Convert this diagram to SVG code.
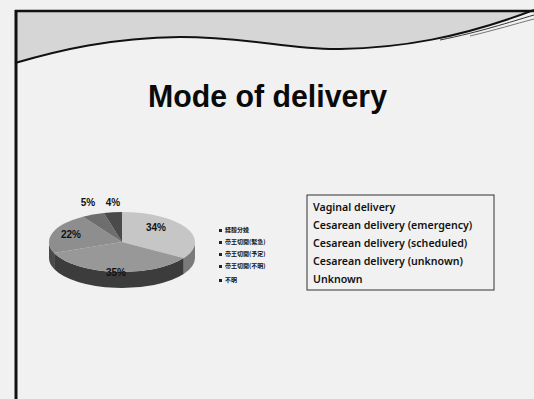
<svg xmlns="http://www.w3.org/2000/svg" width="534" height="399" viewBox="0 0 534 399">
<style>
.pct{font-family:"Liberation Sans",Arial,sans-serif;font-weight:bold;font-size:10px;fill:#111}
.jp{font-family:"Noto Sans CJK JP","Noto Sans CJK SC",sans-serif;font-weight:bold;font-size:6px;fill:#111}
.en{font-family:"Noto Sans","DejaVu Sans",sans-serif;font-weight:600;font-size:10.6px;fill:#111}
.title{font-family:"Liberation Sans",Arial,sans-serif;font-weight:bold;font-size:32px;fill:#0a0a0a}
</style>
<rect width="534" height="399" fill="#f1f1f1"/>
<g id="frame">
<path d="M15,11 L534,11 L534,10 C460,38 400,48 340,49 C290,50 250,37 180,37 C110,38 60,50 15,63 Z" fill="#d6d6d6"/>
<path d="M15,63 C60,50 110,38 180,37 C250,37 290,50 340,49 C400,48 460,38 534,10" fill="none" stroke="#111" stroke-width="2"/>
<path d="M440,40 C480,32 510,22 534,15" fill="none" stroke="#333" stroke-width="1"/>
<path d="M470,36 C495,30 515,24 534,19" fill="none" stroke="#555" stroke-width="0.8"/>
<line x1="15" y1="11" x2="534" y2="11" stroke="#111" stroke-width="2.5"/>
<line x1="16" y1="10" x2="16" y2="399" stroke="#111" stroke-width="3"/>
</g>
<g id="title">
<text class="title" x="267.5" y="107" text-anchor="middle" textLength="239" lengthAdjust="spacingAndGlyphs">Mode of delivery</text>
</g>
<g id="pie" transform="translate(0,1)">
<path d="M195,241 A73,30 0 0 1 183.63,257.07 L183.63,273.07 A73,30 0 0 0 195,257 Z" fill="#7a7a7a"/>
<path d="M183.63,257.07 A73,30 0 0 1 54.13,252.04 L54.13,268.04 A73,30 0 0 0 183.63,273.07 Z" fill="#3c3c3c"/>
<path d="M54.13,252.04 A73,30 0 0 1 49,241 L49,257 A73,30 0 0 0 54.13,268.04 Z" fill="#4a4a4a"/>
<path d="M122,241 L122,211 A73,30 0 0 1 183.63,257.07 Z" fill="#c6c6c6"/>
<path d="M122,241 L183.63,257.07 A73,30 0 0 1 54.13,252.04 Z" fill="#989898"/>
<path d="M122,241 L54.13,252.04 A73,30 0 0 1 82.89,215.67 Z" fill="#8e8e8e"/>
<path d="M122,241 L82.89,215.67 A73,30 0 0 1 103.85,211.94 Z" fill="#6e6e6e"/>
<path d="M122,241 L103.85,211.94 A73,30 0 0 1 122,211 Z" fill="#4a4a4a"/>
</g>
<g id="pie-labels">
<text class="pct" x="88" y="206" text-anchor="middle">5%</text>
<text class="pct" x="113" y="206" text-anchor="middle">4%</text>
<text class="pct" x="156" y="231" text-anchor="middle">34%</text>
<text class="pct" x="71" y="238" text-anchor="middle">22%</text>
<text class="pct" x="116" y="276" text-anchor="middle">35%</text>
</g>
<g id="legend-jp">
<rect x="219" y="229" width="3" height="3" fill="#222"/>
<text class="jp" x="225" y="232">経腟分娩</text>
<rect x="219" y="241" width="3" height="3" fill="#222"/>
<text class="jp" x="225" y="244">帝王切開(緊急)</text>
<rect x="219" y="253" width="3" height="3" fill="#222"/>
<text class="jp" x="225" y="256">帝王切開(予定)</text>
<rect x="219" y="265" width="3" height="3" fill="#222"/>
<text class="jp" x="225" y="268">帝王切開(不明)</text>
<rect x="219" y="279" width="3" height="3" fill="#222"/>
<text class="jp" x="225" y="282">不明</text>
</g>
<g id="legend-en">
<rect x="307" y="195" width="187" height="95" fill="none" stroke="#333" stroke-width="1"/>
<text class="en" x="313" y="211">Vaginal delivery</text>
<text class="en" x="313" y="229">Cesarean delivery (emergency)</text>
<text class="en" x="313" y="247">Cesarean delivery (scheduled)</text>
<text class="en" x="313" y="265">Cesarean delivery (unknown)</text>
<text class="en" x="313" y="283">Unknown</text>
</g>
</svg>
